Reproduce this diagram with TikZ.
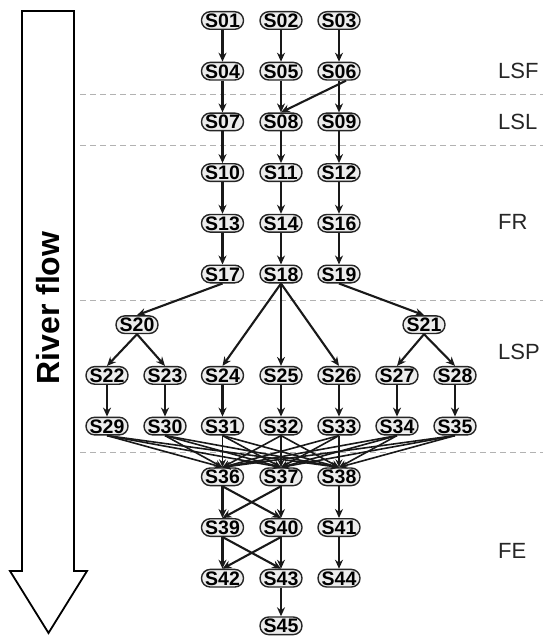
\documentclass[tikz,border=0pt]{standalone}
\usepackage{fontspec}
\setmainfont{Liberation Sans}
\usetikzlibrary{arrows.meta}
\tikzset{
  nd/.style={draw=black!85, line width=1.4pt, fill=gray!15, rounded corners=8.7pt,
    minimum width=42pt, minimum height=17.6pt, inner sep=0pt,
    text height=14pt, text depth=0pt,
    font=\bfseries\fontsize{19.5}{19.5}\selectfont},
  ed/.style={draw=black!90, line width=2.1pt, -{Stealth[length=9pt,width=8pt]}},
  fan/.style={draw=black!90, line width=1.6pt, -{Stealth[length=8pt,width=7pt]}},
  sep/.style={draw=gray!60, line width=1.1pt, dash pattern=on 6pt off 4pt},
  lbl/.style={anchor=west, inner sep=0pt, font=\fontsize{22}{22}\selectfont, text=black!85},
  flow/.style={draw=black, line width=1.8pt, fill=white, line join=miter}
}
\begin{document}
\begin{tikzpicture}[x=1pt, y=-1pt]
\useasboundingbox (0,0) rectangle (543,636);
% separators
\draw[sep] (80,94.5) -- (543,94.5);
\draw[sep] (80,145.5) -- (543,145.5);
\draw[sep] (80,300.5) -- (543,300.5);
\draw[sep] (80,452.5) -- (543,452.5);
% river flow arrow
\draw[flow] (22,11) -- (74,11) -- (74,571) -- (87,571) -- (48.5,633) -- (10,571) -- (22,571) -- cycle;
\node[rotate=90, font=\bfseries\fontsize{32}{32}\selectfont, inner sep=0pt] (rf) at (48,308) {River flow};
% labels
\node[lbl] (lLSF) at (498,71) {LSF};
\node[lbl] (lLSL) at (498,122) {LSL};
\node[lbl] (lFR) at (498,222) {FR};
\node[lbl] (lLSP) at (498,352) {LSP};
\node[lbl] (lFE) at (498,551) {FE};
% nodes
\def\ca{222.5}\def\cb{281}\def\cc{339}
\node[nd] (S01) at (\ca,20.5) {S01};
\node[nd] (S02) at (\cb,20.5) {S02};
\node[nd] (S03) at (\cc,20.5) {S03};
\node[nd] (S04) at (\ca,71.2) {S04};
\node[nd] (S05) at (\cb,71.2) {S05};
\node[nd] (S06) at (\cc,71.2) {S06};
\node[nd] (S07) at (\ca,121.9) {S07};
\node[nd] (S08) at (\cb,121.9) {S08};
\node[nd] (S09) at (\cc,121.9) {S09};
\node[nd] (S10) at (\ca,172.6) {S10};
\node[nd] (S11) at (\cb,172.6) {S11};
\node[nd] (S12) at (\cc,172.6) {S12};
\node[nd] (S13) at (\ca,223.3) {S13};
\node[nd] (S14) at (\cb,223.3) {S14};
\node[nd] (S16) at (\cc,223.3) {S16};
\node[nd] (S17) at (\ca,274) {S17};
\node[nd] (S18) at (\cb,274) {S18};
\node[nd] (S19) at (\cc,274) {S19};
\node[nd] (S20) at (137,324.7) {S20};
\node[nd] (S21) at (424,324.7) {S21};
\node[nd] (S22) at (107,375.4) {S22};
\node[nd] (S23) at (165,375.4) {S23};
\node[nd] (S24) at (\ca,375.4) {S24};
\node[nd] (S25) at (\cb,375.4) {S25};
\node[nd] (S26) at (\cc,375.4) {S26};
\node[nd] (S27) at (397,375.4) {S27};
\node[nd] (S28) at (455,375.4) {S28};
\node[nd] (S29) at (107,426.1) {S29};
\node[nd] (S30) at (165,426.1) {S30};
\node[nd] (S31) at (\ca,426.1) {S31};
\node[nd] (S32) at (\cb,426.1) {S32};
\node[nd] (S33) at (\cc,426.1) {S33};
\node[nd] (S34) at (397,426.1) {S34};
\node[nd] (S35) at (455,426.1) {S35};
\node[nd] (S36) at (\ca,476.8) {S36};
\node[nd] (S37) at (\cb,476.8) {S37};
\node[nd] (S38) at (\cc,476.8) {S38};
\node[nd] (S39) at (\ca,527.5) {S39};
\node[nd] (S40) at (\cb,527.5) {S40};
\node[nd] (S41) at (\cc,527.5) {S41};
\node[nd] (S42) at (\ca,578.2) {S42};
\node[nd] (S43) at (\cb,578.2) {S43};
\node[nd] (S44) at (\cc,578.2) {S44};
\node[nd] (S45) at (\cb,625.8) {S45};
% edges
\foreach \a/\b in {S01/S04,S02/S05,S03/S06,S04/S07,S05/S08,S06/S09,
  S07/S10,S08/S11,S09/S12,S10/S13,S11/S14,S12/S16,S13/S17,S14/S18,S16/S19,
  S17/S20,S18/S24,S18/S25,S18/S26,S19/S21,S20/S22,S20/S23,S21/S27,S21/S28,
  S22/S29,S23/S30,S24/S31,S25/S32,S26/S33,S27/S34,S28/S35,
  S36/S39,S36/S40,S37/S39,S37/S40,S38/S41,S39/S42,S39/S43,S40/S42,S40/S43,
  S41/S44,S43/S45}
  \draw[ed] (\a.south) -- (\b.north);
\draw[ed] ([xshift=7pt]S06.south) -- (S08.north);
\foreach \a in {S29,S30,S31,S32,S33,S34,S35}
  \foreach \b in {S36,S37,S38}
    \draw[fan] (\a.south) -- (\b.north);
\end{tikzpicture}
\end{document}
